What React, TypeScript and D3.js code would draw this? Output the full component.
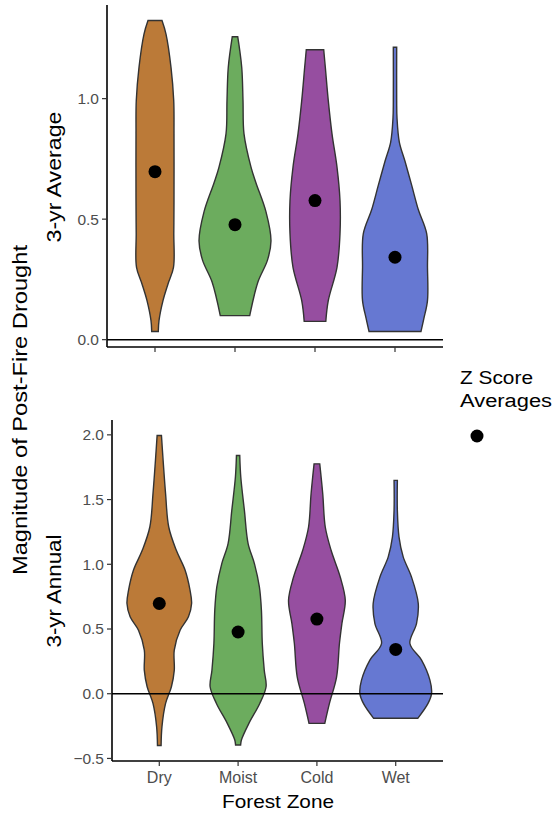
import React from 'react';
import * as d3 from 'd3';

const zones = ['Dry', 'Moist', 'Cold', 'Wet'];
const zoneColors = ['#BB7A38', '#6CAC5E', '#964EA0', '#6678D2'];
const zScoreMeans = [0.697, 0.477, 0.577, 0.342];

const avgTicks = [0, 0.5, 1.0];
const annualTicks = [-0.5, 0, 0.5, 1.0, 1.5, 2.0];

// violin outlines: [value, half width in zone units]
const avgDry = [[0.034, 0.041], [0.079, 0.05], [0.162, 0.1], [0.231, 0.1625], [0.3, 0.231], [0.44, 0.235], [0.577, 0.2375], [0.854, 0.2375], [0.992, 0.234], [1.13, 0.2], [1.268, 0.1375], [1.324, 0.0875]];
const avgMoist = [[0.0996, 0.184], [0.24, 0.2875], [0.33, 0.406], [0.41, 0.45], [0.53, 0.3875], [0.65, 0.2625], [0.716, 0.2], [0.854, 0.1125], [0.992, 0.1], [1.13, 0.084], [1.257, 0.034]];
const avgCold = [[0.076, 0.135], [0.162, 0.166], [0.3, 0.275], [0.44, 0.3125], [0.577, 0.3125], [0.716, 0.275], [0.854, 0.2125], [0.992, 0.166], [1.13, 0.129], [1.203, 0.109]];
const avgWet = [[0.034, 0.325], [0.09, 0.3625], [0.162, 0.406], [0.3, 0.406], [0.44, 0.396], [0.54, 0.291], [0.64, 0.209], [0.74, 0.125], [0.82, 0.054], [0.92, 0.025], [0.99, 0.021], [1.213, 0.021]];

const annDry = [[-0.4, 0.023], [-0.254, 0.034], [-0.075, 0.08], [0.054, 0.154], [0.18, 0.19], [0.337, 0.19], [0.49, 0.264], [0.594, 0.37], [0.697, 0.41], [0.8, 0.39], [0.954, 0.328], [1.108, 0.216], [1.288, 0.12], [1.545, 0.08], [1.8, 0.049], [1.995, 0.0275]];
const annMoist = [[-0.396, 0.032], [-0.357, 0.042], [-0.229, 0.137], [-0.075, 0.275], [0.054, 0.355], [0.18, 0.332], [0.388, 0.307], [0.645, 0.296], [0.825, 0.27], [1.005, 0.207], [1.16, 0.127], [1.416, 0.08], [1.674, 0.034], [1.84, 0.021]];
const annCold = [[-0.229, 0.1], [-0.075, 0.159], [0.131, 0.25], [0.388, 0.286], [0.542, 0.317], [0.722, 0.36], [0.902, 0.296], [1.108, 0.18], [1.288, 0.106], [1.545, 0.074], [1.776, 0.036]];
const annWet = [[-0.19, 0.28], [-0.075, 0.41], [0.003, 0.455], [0.105, 0.434], [0.26, 0.328], [0.388, 0.18], [0.542, 0.264], [0.697, 0.286], [0.902, 0.2], [1.057, 0.095], [1.21, 0.042], [1.416, 0.021], [1.648, 0.021]];

const font = '"Liberation Sans", Arial, sans-serif';

const panels = [
  { label: '3-yr Average', labelY: 177, labelLen: 131, violins: [avgDry, avgMoist, avgCold, avgWet], ticks: avgTicks, left: 107, right: 443, top: 5, bottom: 347, showX: false },
  { label: '3-yr Annual', labelY: 591, labelLen: 113, violins: [annDry, annMoist, annCold, annWet], ticks: annualTicks, left: 112, right: 443, top: 420, bottom: 761, showX: true },
];

function Panel({ p }) {
  const all = p.violins.flat().map(d => d[0]);
  const [lo, hi] = d3.extent(all);
  const pad = (hi - lo) * 0.05;
  const y = d3.scaleLinear().domain([lo - pad, hi + pad]).range([p.bottom, p.top]);
  const x = d3.scalePoint().domain(zones).range([p.left, p.right]).padding(0.6);
  const step = x.step();

  return (
    <g>
      {p.violins.map((v, i) => {
        const cx = x(zones[i]);
        const area = d3.area()
          .y(d => y(d[0]))
          .x0(d => cx - d[1] * step)
          .x1(d => cx + d[1] * step)
          .curve(d3.curveCatmullRom.alpha(0.5));
        return <path key={zones[i]} d={area(v)} fill={zoneColors[i]} stroke="#333333" strokeWidth={1.4} />;
      })}
      <line x1={p.left} x2={p.right} y1={y(0)} y2={y(0)} stroke="#000" strokeWidth={1.5} />
      {zScoreMeans.map((m, i) => (
        <circle key={i} cx={x(zones[i])} cy={y(m)} r={6.5} fill="#000" />
      ))}
      <line x1={p.left} x2={p.left} y1={p.top} y2={p.bottom} stroke="#000" strokeWidth={1.6} />
      <line x1={p.left} x2={p.right} y1={p.bottom} y2={p.bottom} stroke="#000" strokeWidth={1.6} />
      {p.ticks.map(t => (
        <g key={t}>
          <line x1={p.left - 5} x2={p.left} y1={y(t)} y2={y(t)} stroke="#333" strokeWidth={1.2} />
          <text x={p.left - 8} y={y(t)} dy="0.35em" textAnchor="end" fontSize={15.5} fill="#4D4D4D" fontFamily={font}>
            {d3.format('.1f')(t)}
          </text>
        </g>
      ))}
      {zones.map(z => (
        <g key={z}>
          <line x1={x(z)} x2={x(z)} y1={p.bottom} y2={p.bottom + 5} stroke="#333" strokeWidth={1.2} />
          {p.showX && (
            <text x={x(z)} y={p.bottom + 22} textAnchor="middle" fontSize={16} fill="#4D4D4D" fontFamily={font}>{z}</text>
          )}
        </g>
      ))}
      <text transform={`translate(61,${p.labelY}) rotate(-90)`} textAnchor="middle" fontSize={20} fill="#000" fontFamily={font}
        textLength={p.labelLen} lengthAdjust="spacingAndGlyphs">{p.label}</text>
    </g>
  );
}

export default function App() {
  return (
    <svg width={555} height={815} style={{ position: 'absolute', left: 0, top: 0, background: '#fff' }}>
      <rect width={555} height={815} fill="#fff" />
      {panels.map(p => <Panel key={p.label} p={p} />)}
      <text x={278} y={808} textAnchor="middle" fontSize={19} fontFamily={font} textLength={112} lengthAdjust="spacingAndGlyphs">Forest Zone</text>
      <text transform="translate(27,410) rotate(-90)" textAnchor="middle" fontSize={20} fontFamily={font}
        textLength={330} lengthAdjust="spacingAndGlyphs">Magnitude of Post-Fire Drought</text>
      <text x={460} y={384} fontSize={18} fontFamily={font} textLength={73} lengthAdjust="spacingAndGlyphs">Z Score</text>
      <text x={460} y={407} fontSize={18} fontFamily={font} textLength={92} lengthAdjust="spacingAndGlyphs">Averages</text>
      <circle cx={477} cy={436} r={6.5} fill="#000" />
    </svg>
  );
}
